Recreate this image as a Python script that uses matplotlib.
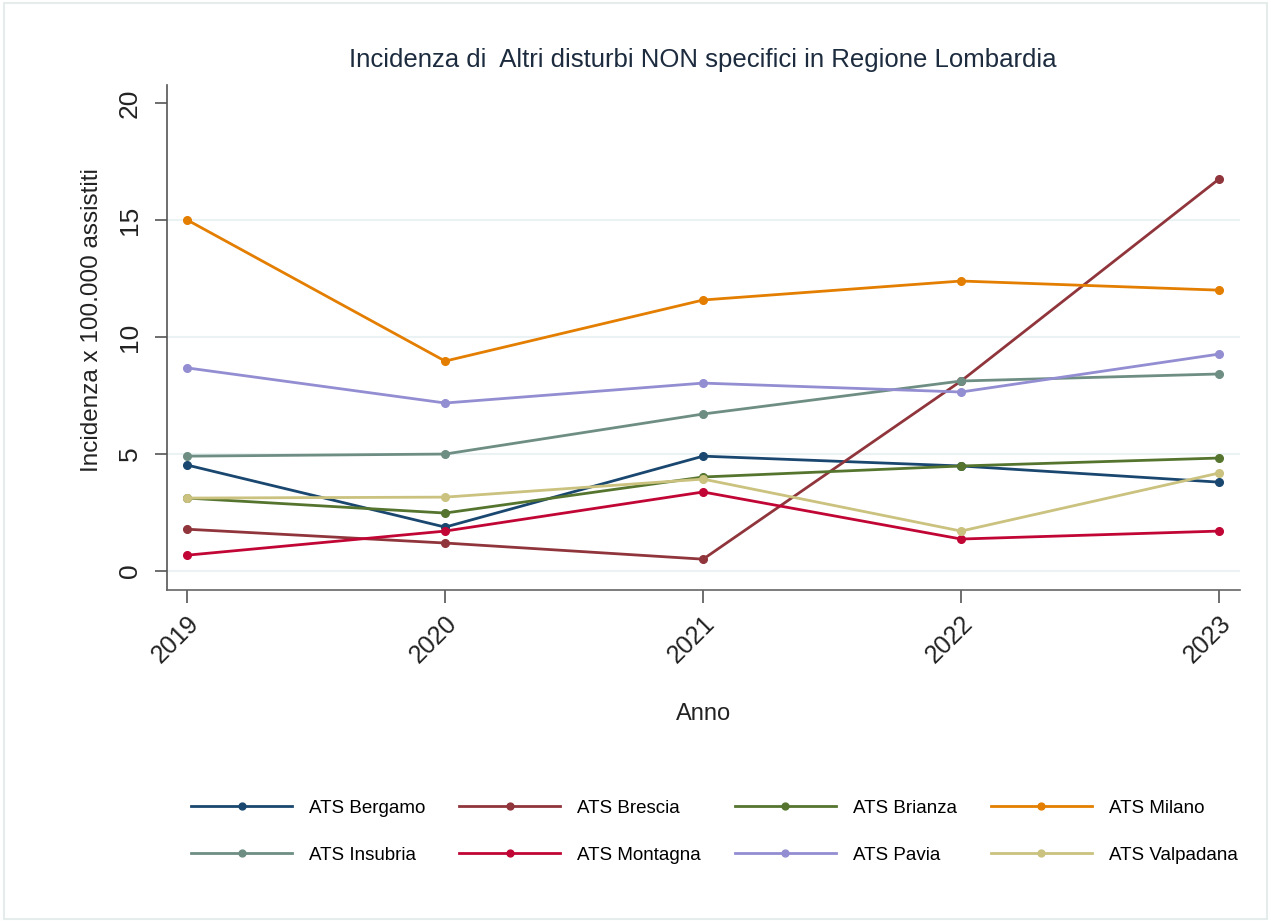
import matplotlib.pyplot as plt
from matplotlib.patches import Rectangle

plt.rcParams["font.family"] = ["Liberation Sans", "DejaVu Sans"]

# incidence per 100,000 assisted, by ATS and year
anni = [2019, 2020, 2021, 2022, 2023]
bergamo = [4.53, 1.88, 4.91, 4.49, 3.80]
brescia = [1.79, 1.20, 0.51, 8.12, 16.75]
brianza = [3.12, 2.48, 4.02, 4.49, 4.83]
milano = [15.0, 8.97, 11.58, 12.39, 12.0]
insubria = [4.91, 5.0, 6.71, 8.12, 8.42]
montagna = [0.68, 1.71, 3.38, 1.37, 1.71]
pavia = [8.68, 7.18, 8.03, 7.65, 9.27]
valpadana = [3.12, 3.16, 3.93, 1.71, 4.19]

nomi = ["ATS Bergamo", "ATS Brescia", "ATS Brianza", "ATS Milano",
        "ATS Insubria", "ATS Montagna", "ATS Pavia", "ATS Valpadana"]
serie = [bergamo, brescia, brianza, milano, insubria, montagna, pavia, valpadana]
colori = ["#1a476f", "#90353b", "#55752f", "#e37e00",
          "#6e8e84", "#c10534", "#938dd2", "#cac27e"]

fig = plt.figure(figsize=(12.71, 9.22), dpi=100)
ax = fig.add_axes([0.1314, 0.36, 0.8442, 0.548])

# faint outer frame of the graph region
fig.patches.append(Rectangle((0.003, 0.003), 0.994, 0.994, transform=fig.transFigure,
                             fill=False, edgecolor="#e6eceb", linewidth=1.5))

for y in [0, 5, 10, 15]:
    ax.axhline(y, color="#eaf2f3", linewidth=1.5, zorder=0)

handles = []
for nome, valori, colore in zip(nomi, serie, colori):
    h, = ax.plot(anni, valori, color=colore, linewidth=2.0, marker="o",
                 markersize=5.5, label=nome, zorder=3)
    handles.append(h)

ax.set_xlim(2018.922, 2023.081)
ax.set_ylim(-0.81, 20.77)
ax.set_xticks(anni)
ax.set_xticklabels([str(a) for a in anni], rotation=45, ha="right",
                   rotation_mode="anchor", fontsize=18, color="#222222")
ax.set_yticks([0, 5, 10, 15, 20])
ax.set_yticklabels(["0", "5", "10", "15", "20"], rotation=90, va="center",
                   fontsize=19, color="#222222")
ax.tick_params(axis="x", length=9, width=1.2, color="#555555", pad=6)
ax.tick_params(axis="y", length=9, width=1.2, color="#555555", pad=9)

for lato in ["top", "right"]:
    ax.spines[lato].set_visible(False)
ax.spines["left"].set_color("#555555")
ax.spines["bottom"].set_color("#666666")
ax.spines["left"].set_linewidth(1.2)
ax.spines["bottom"].set_linewidth(1.2)

ax.set_ylabel("Incidenza x 100.000 assistiti", fontsize=17.5, color="#222222")
ax.yaxis.set_label_coords(-0.060, 0.535)
ax.set_xlabel("Anno", fontsize=17, color="#222222", labelpad=26)
fig.text(0.553, 0.935, "Incidenza di  Altri disturbi NON specifici in Regione Lombardia",
         ha="center", va="center", fontsize=18.5, color="#1c2b3e")

# legend filled row by row: matplotlib fills columns, so interleave the two rows
ordine = [0, 4, 1, 5, 2, 6, 3, 7]
fig.legend(handles=[handles[i] for i in ordine], loc="center",
           bbox_to_anchor=(0.562, 0.098, 0, 0), ncol=4,
           frameon=False, fontsize=13.5, handlelength=5.4, handletextpad=0.9,
           columnspacing=1.8, labelspacing=1.6, markerscale=0.9)

fig.savefig("out.png", dpi=100, facecolor="white")
